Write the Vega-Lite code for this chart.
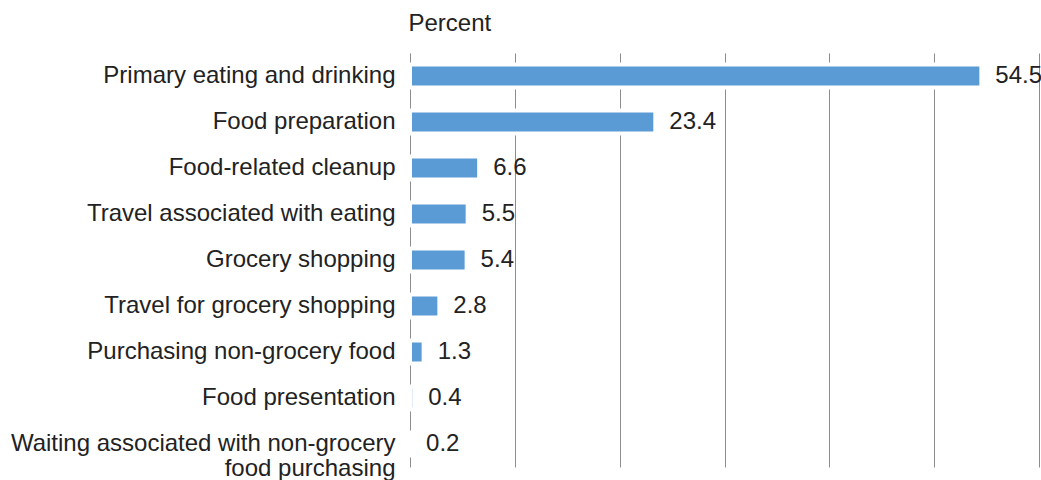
{
  "$schema": "https://vega.github.io/schema/vega-lite/v6.json",
  "autosize": {"type": "none"},
  "padding": {"left": 410, "top": 53, "right": 2, "bottom": 13},
  "width": 629,
  "height": 414,
  "background": "white",
  "config": {
    "view": {"stroke": null},
    "font": "Liberation Sans",
    "text": {"font": "Liberation Sans"}
  },
  "data": {
    "values": [
      {"activity": "Primary eating and drinking", "pct": 54.5},
      {"activity": "Food preparation", "pct": 23.4},
      {"activity": "Food-related cleanup", "pct": 6.6},
      {"activity": "Travel associated with eating", "pct": 5.5},
      {"activity": "Grocery shopping", "pct": 5.4},
      {"activity": "Travel for grocery shopping", "pct": 2.8},
      {"activity": "Purchasing non-grocery food", "pct": 1.3},
      {"activity": "Food presentation", "pct": 0.4},
      {"activity": "Waiting associated with non-grocery|food purchasing", "pct": 0.2}
    ]
  },
  "encoding": {
    "y": {
      "field": "activity",
      "type": "nominal",
      "sort": null,
      "scale": {"paddingInner": 0, "paddingOuter": 0},
      "axis": {
        "title": null,
        "domain": false,
        "ticks": false,
        "tickSize": 0,
        "labelPadding": 15,
        "labelFont": "Liberation Sans",
        "labelFontSize": 24,
        "labelColor": "#222222",
        "labelLimit": 500,
        "labelLineHeight": 25,
        "labelExpr": "split(datum.label, '|')"
      }
    }
  },
  "layer": [
    {
      "mark": {"type": "bar", "color": "#5b9bd5", "stroke": "white", "strokeWidth": 4, "size": 23},
      "encoding": {
        "x": {
          "field": "pct",
          "type": "quantitative",
          "scale": {"domain": [0, 60], "nice": false},
          "axis": {
            "orient": "top",
            "values": [0, 10, 20, 30, 40, 50, 60],
            "labels": false,
            "ticks": false,
            "domain": false,
            "grid": true,
            "gridColor": "#8c8c8c",
            "gridWidth": 1,
            "title": "Percent",
            "titleFont": "Liberation Sans",
            "titleFontSize": 24,
            "titleFontWeight": "normal",
            "titleColor": "#222222",
            "titleAnchor": "start",
            "titleAlign": "left",
            "titleBaseline": "alphabetic",
            "titleX": -2,
            "titleY": -23
          }
        }
      }
    },
    {
      "mark": {"type": "text", "align": "left", "baseline": "middle", "dx": 14, "fontSize": 24, "color": "#222222", "font": "Liberation Sans"},
      "encoding": {
        "x": {"field": "pct", "type": "quantitative"},
        "text": {"field": "pct", "type": "quantitative", "format": ".1f"}
      }
    }
  ]
}
